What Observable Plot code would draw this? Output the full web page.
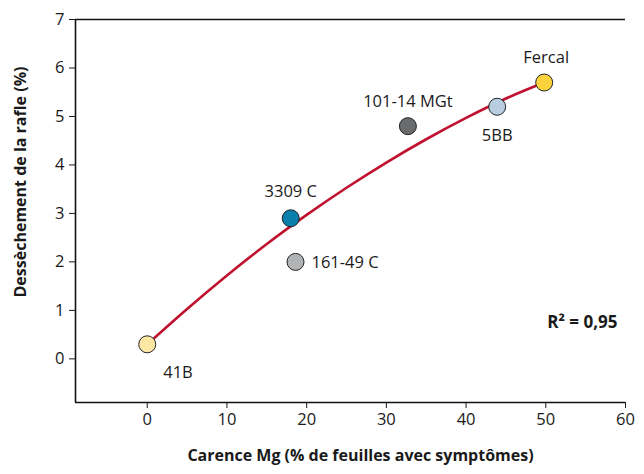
<!DOCTYPE html>
<html>
<head>
<meta charset="utf-8">
<script src="https://cdn.jsdelivr.net/npm/d3@7"></script>
<script src="https://cdn.jsdelivr.net/npm/@observablehq/plot@0.6"></script>
<style>
  html, body { margin: 0; padding: 0; background: #fff; }
  svg { font-family: "Open Sans", sans-serif; }
</style>
</head>
<body>
<div id="chart"></div>
<script>
// Points (cultivars)
const names = ["41B", "3309 C", "161-49 C", "101-14 MGt", "5BB", "Fercal"];
const carence = [0, 18, 18.6, 32.7, 43.9, 49.8];
const dessechement = [0.3, 2.9, 2.0, 4.8, 5.2, 5.7];
const colors = ["#fde7a4", "#0a7fab", "#b2b3b5", "#6a6b6d", "#b8cde0", "#fdd33d"];

// Regression curve
const curveX = [0, 5, 10, 15, 20, 25, 30, 35, 40, 45, 49.8];
const curveY = [0.3, 1.03, 1.72, 2.37, 2.97, 3.53, 4.05, 4.53, 4.97, 5.37, 5.7];

const xTicks = [0, 10, 20, 30, 40, 50, 60];
const yTicks = [0, 1, 2, 3, 4, 5, 6, 7];

// label placement (offsets in px)
const labelDx = [16, 0, 16, 0, 0, 2];
const labelDy = [28, -27, 1, -24, 29, -25];
const labelAnchor = ["start", "middle", "start", "middle", "middle", "middle"];

const pts = names.map((n, i) => ({name: n, x: carence[i], y: dessechement[i], color: colors[i],
  dx: labelDx[i], dy: labelDy[i], anchor: labelAnchor[i]}));
const curve = curveX.map((x, i) => ({x, y: curveY[i]}));

const labelMarks = pts.map(p => Plot.text([p], {x: "x", y: "y", text: "name", dx: p.dx, dy: p.dy,
  textAnchor: p.anchor, fontSize: 16.5, fill: "#1a1a1a"}));

const chart = Plot.plot({
  width: 644,
  height: 474,
  marginLeft: 75,
  marginRight: 19,
  marginTop: 19,
  marginBottom: 72,
  style: {fontFamily: "Open Sans, sans-serif", fontSize: "16.5px", color: "#1a1a1a"},
  x: {domain: [-9, 60], ticks: xTicks, tickSize: 6, tickPadding: 5, label: null},
  y: {domain: [-0.9, 7], ticks: yTicks, tickSize: 6, tickPadding: 5, label: null},
  marks: [
    Plot.ruleX([-9], {stroke: "#111", strokeWidth: 1.6}),
    Plot.ruleY([-0.9, 7], {stroke: "#111", strokeWidth: 1.6}),
    Plot.line(curve, {x: "x", y: "y", stroke: "#c0122e", strokeWidth: 2.6, curve: "monotone-x"}),
    Plot.dot(pts, {x: "x", y: "y", r: 8.5, fill: "color", stroke: "#222", strokeWidth: 1}),
    ...labelMarks,
    Plot.text(["R² = 0,95"], {x: 59, y: 0.74, textAnchor: "end", fontWeight: "bold", fontSize: 17, fill: "#1a1a1a"}),
    Plot.text(["Carence Mg (% de feuilles avec symptômes)"], {frameAnchor: "bottom", textAnchor: "middle", dx: 10, dy: 58,
      fontWeight: "bold", fontSize: 16, fill: "#1a1a1a"}),
    Plot.text(["Dessèchement de la rafle (%)"], {frameAnchor: "left", textAnchor: "middle", rotate: -90, dx: -55, dy: -29,
      fontWeight: "bold", fontSize: 16, fill: "#1a1a1a"})
  ]
});
document.getElementById("chart").appendChild(chart);
</script>
</body>
</html>
